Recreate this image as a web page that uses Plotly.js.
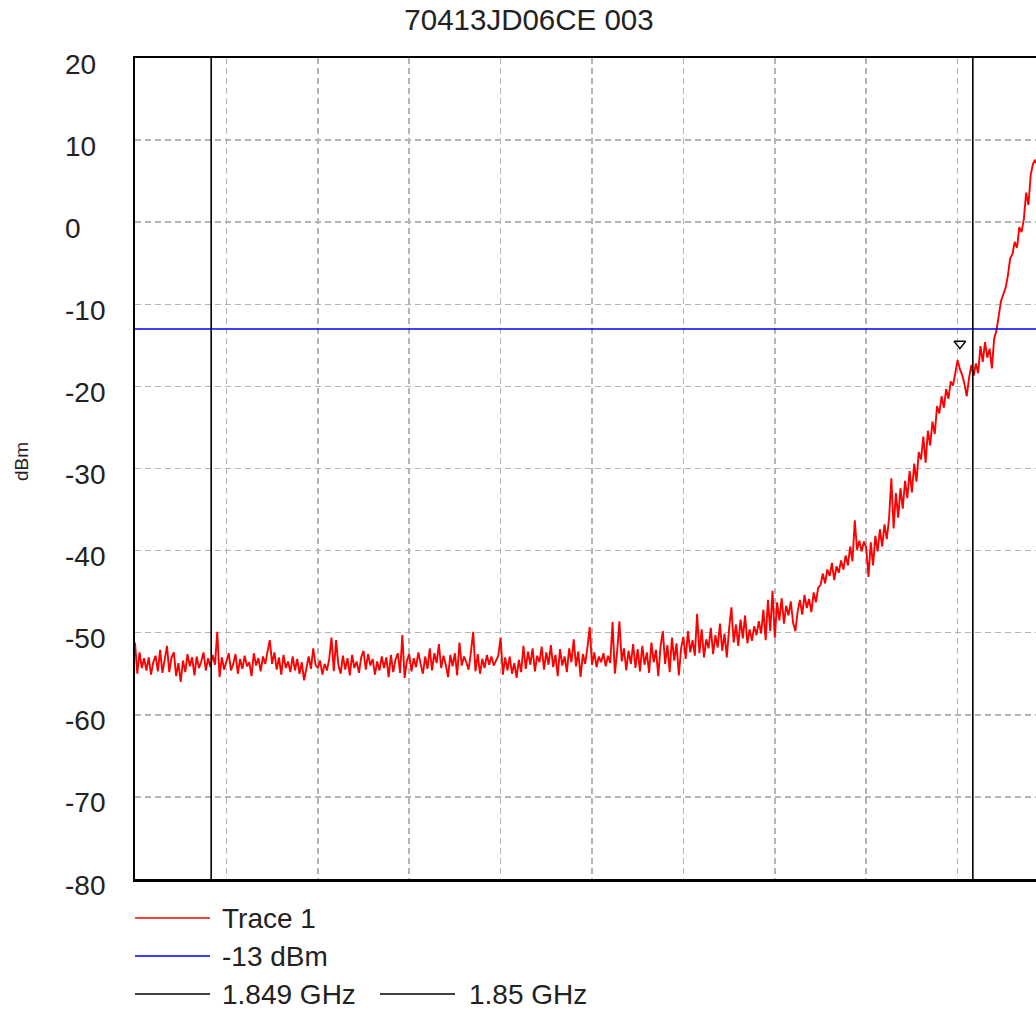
<!DOCTYPE html>
<html>
<head>
<meta charset="utf-8">
<script src="https://cdn.plot.ly/plotly-3.0.1.min.js"></script>
<style>
html,body{margin:0;padding:0;overflow:hidden;background:#fff;}
#chart{width:1059px;height:1010px;}
</style>
</head>
<body>
<div id="chart"></div>
<script>
// ---- data ----
const chartTitle = "70413JD06CE 003";
const startFreqGHz = 1.8489;
const stopFreqGHz = 1.8501;
const traceName = "Trace 1";
const traceLevels = [
-51.2,-55.0,-52.4,-54.3,-53.1,-54.6,-53.0,-55.1,-53.6,-52.8,-54.7,-52.1,-54.9,-53.2,-51.6,-54.8,-53.0,-52.4,-55.3,-53.7,
-56.0,-53.4,-54.8,-52.6,-54.1,-53.0,-55.2,-52.9,-54.3,-53.5,-52.4,-54.6,-53.1,-54.2,-52.7,-53.9,-49.9,-55.4,-53.0,-54.5,
-53.3,-52.5,-54.6,-53.8,-52.6,-55.0,-53.2,-54.4,-52.8,-54.1,-53.6,-55.3,-52.5,-54.0,-53.1,-54.7,-52.9,-53.8,-52.3,-50.9,
-53.8,-52.4,-54.5,-53.0,-55.1,-52.7,-54.3,-53.5,-54.8,-52.9,-54.6,-53.2,-55.0,-53.6,-55.8,-54.2,-52.9,-54.4,-51.9,-53.9,
-54.3,-53.4,-55.1,-53.8,-54.6,-53.2,-50.6,-54.7,-50.9,-53.9,-55.0,-52.8,-54.5,-53.1,-55.2,-52.7,-54.3,-53.5,-54.9,-53.0,
-52.2,-54.5,-52.6,-54.0,-53.2,-55.1,-53.5,-54.6,-52.9,-54.3,-53.0,-55.4,-52.7,-54.8,-53.3,-52.5,-54.9,-50.3,-55.5,-53.4,
-52.6,-54.7,-53.1,-54.2,-52.4,-53.8,-55.0,-52.9,-54.4,-51.9,-54.6,-52.5,-53.7,-51.4,-54.3,-52.8,-53.9,-55.4,-52.7,-54.1,
-52.5,-55.2,-51.2,-54.0,-52.9,-53.6,-54.5,-52.4,-49.9,-54.7,-52.6,-55.0,-53.2,-54.3,-52.7,-53.9,-52.9,-54.0,-53.3,-52.8,
-50.6,-55.1,-53.0,-54.6,-52.9,-55.0,-53.7,-55.5,-53.3,-54.8,-51.6,-54.4,-52.3,-53.9,-51.9,-54.7,-52.8,-53.6,-51.7,-54.5,
-52.4,-53.9,-51.5,-54.2,-52.7,-55.3,-52.0,-54.0,-52.9,-54.8,-51.9,-53.6,-50.8,-54.1,-52.3,-55.4,-52.6,-53.8,-51.8,-49.3,
-53.9,-52.4,-54.2,-52.9,-53.6,-52.5,-54.1,-52.8,-53.7,-48.7,-55.0,-52.3,-48.6,-53.5,-51.9,-54.6,-52.2,-53.8,-51.4,-54.3,
-52.0,-54.7,-51.6,-53.9,-52.4,-54.9,-51.2,-53.6,-52.1,-55.3,-51.7,-49.8,-53.8,-51.5,-54.8,-50.6,-53.4,-51.3,-55.2,-51.9,
-50.5,-53.2,-49.8,-52.4,-50.9,-52.8,-47.7,-52.5,-49.6,-53.0,-50.8,-51.9,-49.4,-52.6,-50.3,-51.8,-48.9,-52.2,-50.1,-53.0,
-49.5,-46.9,-51.2,-49.0,-51.6,-48.4,-50.7,-47.9,-51.3,-49.6,-51.0,-49.2,-50.3,-48.6,-50.1,-47.2,-50.9,-46.0,-49.8,-44.9,
-50.6,-46.3,-48.5,-45.8,-48.9,-46.7,-47.9,-46.2,-48.8,-49.8,-47.4,-46.0,-47.8,-45.4,-47.0,-45.9,-47.5,-45.1,-46.3,-44.5,
-44.2,-42.8,-44.0,-42.3,-43.1,-41.5,-43.6,-41.9,-42.7,-41.2,-42.3,-40.6,-41.8,-39.5,-41.3,-36.3,-39.9,-38.8,-40.1,-38.9,
-39.6,-43.2,-39.0,-41.8,-38.2,-40.1,-37.4,-39.5,-36.8,-38.6,-36.1,-31.2,-37.3,-33.0,-36.0,-32.4,-34.9,-31.5,-33.6,-30.3,
-32.9,-29.4,-31.6,-28.0,-28.9,-26.1,-29.3,-25.4,-27.2,-24.3,-25.8,-22.4,-23.3,-21.2,-22.6,-20.3,-21.5,-19.4,-19.9,-18.3,
-16.8,-17.9,-18.6,-19.7,-21.2,-19.0,-17.4,-18.7,-17.2,-18.4,-15.1,-17.0,-14.6,-16.5,-15.4,-17.8,-14.2,-13.2,-11.4,-9.6,
-8.8,-8.0,-6.5,-4.4,-3.9,-2.4,-3.1,-0.6,-1.2,0.4,3.6,2.1,5.8,7.1,7.6,6.9,8.3,7.8,9.1,8.6,
9.4
];
const limitName = "-13 dBm";
const limitLevel = -13;
const markerLineNames = ["1.849 GHz", "1.85 GHz"];
const markerLineFreqs = [1.849, 1.85];
const peakMarkerFreq = [1.849983];
const peakMarkerLevel = [-14.8];
const yTickValues = [20, 10, 0, -10, -20, -30, -40, -50, -60, -70, -80];
const yRange = [-80, 20];
const yAxisLabel = "dBm";

// ---- build ----
const FONT = "Liberation Sans, Arial, sans-serif";
const TXT = "#222222";
const nPts = traceLevels.length;
const dx = (stopFreqGHz - startFreqGHz) / (nPts - 1);

const traces = [
  { type: "scatter", mode: "lines", name: traceName, x0: startFreqGHz, dx: dx, y: traceLevels,
    line: { color: "#ff0000", width: 1.9 }, showlegend: false, hoverinfo: "skip" },
  { type: "scatter", mode: "lines", name: limitName, x: [startFreqGHz, stopFreqGHz], y: [limitLevel, limitLevel],
    line: { color: "#0000ff", width: 1.5 }, showlegend: false, hoverinfo: "skip" },
];
markerLineFreqs.forEach((f, i) => {
  traces.push({ type: "scatter", mode: "lines", name: markerLineNames[i], x: [f, f], y: yRange,
    line: { color: "#000000", width: 1.6 }, showlegend: false, hoverinfo: "skip" });
});
traces.push({ type: "scatter", mode: "markers", name: "peak", x: peakMarkerFreq, y: peakMarkerLevel,
  marker: { symbol: "triangle-down-open", size: 10, color: "#000000", line: { width: 1.4, color: "#000" } },
  showlegend: false, hoverinfo: "skip" });

// plot area geometry (pixels)
const L = 135, T = 58, W = 914, H = 821;
const px = v => (v - L) / W;
const py = v => (T + H - v) / H;

const annotations = [];
yTickValues.forEach(v => {
  annotations.push({ xref: "paper", yref: "y", x: px(63), y: v, yshift: -6, text: String(v),
    showarrow: false, xanchor: "left", yanchor: "middle", font: { family: FONT, size: 28, color: TXT } });
});
annotations.push({ xref: "paper", yref: "paper", x: px(21), y: py(462), text: yAxisLabel, textangle: -90,
  showarrow: false, xanchor: "center", yanchor: "middle", font: { family: FONT, size: 19, color: TXT } });

// legend (drawn as lines + text)
const legendRows = [
  { text: traceName, color: "#ff0000", y: 918, x0: 135, x1: 210, tx: 220 },
  { text: limitName, color: "#0000ff", y: 956, x0: 135, x1: 210, tx: 220 },
  { text: markerLineNames[0], color: "#000000", y: 994, x0: 135, x1: 210, tx: 220 },
  { text: markerLineNames[1], color: "#000000", y: 994, x0: 380, x1: 455, tx: 467 },
];
const shapes = [];
legendRows.forEach(r => {
  shapes.push({ type: "line", xref: "paper", yref: "paper", x0: px(r.x0), x1: px(r.x1), y0: py(r.y), y1: py(r.y),
    line: { color: r.color, width: 1.5 } });
  annotations.push({ xref: "paper", yref: "paper", x: px(r.tx), y: py(r.y), text: r.text, showarrow: false,
    xanchor: "left", yanchor: "middle", font: { family: FONT, size: 28, color: TXT } });
});

const layout = {
  width: 1059, height: 1010,
  margin: { l: L, r: 1059 - L - W, t: T, b: 1010 - T - H, pad: 0 },
  paper_bgcolor: "#ffffff", plot_bgcolor: "#ffffff",
  title: { text: chartTitle, xref: "container", yref: "container", x: 529 / 1059, y: 1 - 20 / 1010,
    xanchor: "center", yanchor: "middle", font: { family: FONT, size: 29.5, color: TXT } },
  xaxis: { range: [startFreqGHz, stopFreqGHz], tickmode: "linear", tick0: startFreqGHz,
    dtick: (stopFreqGHz - startFreqGHz) / 10, showticklabels: false, ticks: "",
    showgrid: true, gridcolor: "#b4b4b4", gridwidth: 1.5, griddash: "6px,4px",
    showline: true, linecolor: "#000", linewidth: 2.5, mirror: true, zeroline: false, fixedrange: true },
  yaxis: { range: yRange, tickmode: "array", tickvals: yTickValues, showticklabels: false, ticks: "",
    showgrid: true, gridcolor: "#b4b4b4", gridwidth: 1.5, griddash: "6px,4px",
    showline: true, linecolor: "#000", linewidth: 2.5, mirror: true, zeroline: false, fixedrange: true },
  showlegend: false,
  hovermode: false,
  annotations: annotations,
  shapes: shapes,
};

Plotly.newPlot("chart", traces, layout, { displayModeBar: false, staticPlot: true });
</script>
</body>
</html>
